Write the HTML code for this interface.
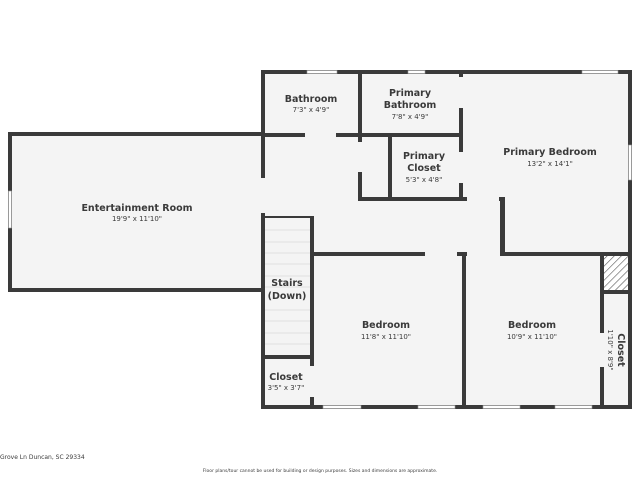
<!DOCTYPE html>
<html><head><meta charset="utf-8"><style>
body{margin:0;background:#fff;}
svg{display:block}
text{font-family:"DejaVu Sans","Liberation Sans",sans-serif;fill:#3a3a3a;text-anchor:middle}
.n{font-size:9.5px;font-weight:bold}
.d{font-size:7px}
</style></head><body>
<svg width="640" height="480" viewBox="0 0 640 480" xmlns="http://www.w3.org/2000/svg">
<defs><pattern id="h" width="5" height="5" patternUnits="userSpaceOnUse" patternTransform="rotate(45)"><rect width="5" height="5" fill="#fff"/><line x1="0" y1="0" x2="0" y2="5" stroke="#555" stroke-width="1.2"/></pattern></defs>
<!-- floors -->
<rect x="8" y="134" width="256" height="158" fill="#f4f4f4"/>
<rect x="261" y="70" width="371" height="339" fill="#f4f4f4"/>
<rect x="604" y="256" width="24" height="35" fill="url(#h)"/>
<!-- stairs lines -->
<g stroke="#d8d8d8" stroke-width="0.8">
<line x1="265" y1="230" x2="310" y2="230"/><line x1="265" y1="242" x2="310" y2="242"/><line x1="265" y1="253" x2="310" y2="253"/><line x1="265" y1="264" x2="310" y2="264"/><line x1="265" y1="276" x2="310" y2="276"/><line x1="265" y1="287" x2="310" y2="287"/><line x1="265" y1="310" x2="310" y2="310"/><line x1="265" y1="321" x2="310" y2="321"/><line x1="265" y1="333" x2="310" y2="333"/><line x1="265" y1="344" x2="310" y2="344"/>
</g>
<g fill="#3a3a3a">
<!-- entertainment room -->
<rect x="8" y="132" width="257" height="4"/>
<rect x="8" y="288" width="254" height="4"/>
<rect x="8" y="132" width="4" height="160"/>
<!-- main outer -->
<rect x="261" y="70" width="371" height="4"/>
<rect x="261" y="405" width="371" height="4"/>
<rect x="261" y="70" width="4" height="108"/>
<rect x="261" y="213" width="4" height="196"/>
<rect x="628" y="70" width="4" height="339"/>
<!-- bathroom bottom -->
<rect x="265" y="133" width="40" height="4"/>
<rect x="336" y="133" width="124" height="4"/>
<!-- bathroom right wall -->
<rect x="358" y="70" width="4" height="72"/>
<rect x="358" y="172" width="4" height="29"/>
<!-- closet bottom -->
<rect x="358" y="197" width="109" height="4"/>
<rect x="388" y="136" width="4" height="63"/>
<!-- primary bath right -->
<rect x="459" y="70" width="4" height="7"/>
<rect x="459" y="108" width="4" height="44"/>
<rect x="459" y="183" width="4" height="18"/>
<!-- primary bedroom wall -->
<rect x="499" y="197" width="6" height="4"/>
<rect x="500" y="197" width="5" height="59"/>
<rect x="500" y="252" width="132" height="4"/>
<!-- hall bottom -->
<rect x="310" y="252" width="115" height="4"/>
<rect x="457" y="252" width="10" height="4"/>
<!-- stairs -->
<rect x="265" y="216" width="49" height="2"/>
<rect x="310" y="216" width="4" height="150"/>
<rect x="310" y="397" width="4" height="12"/>
<rect x="265" y="355" width="49" height="4"/>
<!-- bedroom divider -->
<rect x="462" y="252" width="4" height="157"/>
<!-- side closet -->
<rect x="600" y="254" width="4" height="79"/>
<rect x="600" y="367" width="4" height="42"/>
<rect x="600" y="290" width="32" height="4"/>
</g>
<!-- windows -->
<g fill="#fff" stroke="#999" stroke-width="0.6">
<rect x="307" y="70.5" width="30" height="3"/>
<rect x="408" y="70.5" width="17" height="3"/>
<rect x="582" y="70.5" width="36" height="3"/>
<rect x="628.5" y="145" width="3" height="35"/>
<rect x="8.5" y="191" width="3" height="37"/>
<rect x="323" y="405.5" width="38" height="3"/>
<rect x="418" y="405.5" width="37" height="3"/>
<rect x="483" y="405.5" width="37" height="3"/>
<rect x="555" y="405.5" width="37" height="3"/>
</g>
<!-- labels -->
<text class="n" x="137" y="211">Entertainment Room</text><text class="d" x="137" y="221">19'9" x 11'10"</text>
<text class="n" x="311" y="102">Bathroom</text><text class="d" x="311" y="112">7'3" x 4'9"</text>
<text class="n" x="410" y="96">Primary</text><text class="n" x="410" y="108">Bathroom</text><text class="d" x="410" y="119">7'8" x 4'9"</text>
<text class="n" x="424" y="159">Primary</text><text class="n" x="424" y="171">Closet</text><text class="d" x="424" y="182">5'3" x 4'8"</text>
<text class="n" x="550" y="155">Primary Bedroom</text><text class="d" x="550" y="166">13'2" x 14'1"</text>
<text class="n" x="287" y="286">Stairs</text><text class="n" x="287" y="299">(Down)</text>
<text class="n" x="286" y="380">Closet</text><text class="d" x="286" y="390">3'5" x 3'7"</text>
<text class="n" x="386" y="328">Bedroom</text><text class="d" x="386" y="339">11'8" x 11'10"</text>
<text class="n" x="532" y="328">Bedroom</text><text class="d" x="532" y="339">10'9" x 11'10"</text>
<text class="n" transform="translate(618,350) rotate(90)">Closet</text>
<text class="d" transform="translate(608,350) rotate(90)">1'10" x 8'9"</text>
<text x="0" y="459" style="font-size:6px;text-anchor:start">Grove Ln Duncan, SC 29334</text>
<text x="320" y="472" style="font-size:4.5px">Floor plans/tour cannot be used for building or design purposes. Sizes and dimensions are approximate.</text>
</svg>
</body></html>
